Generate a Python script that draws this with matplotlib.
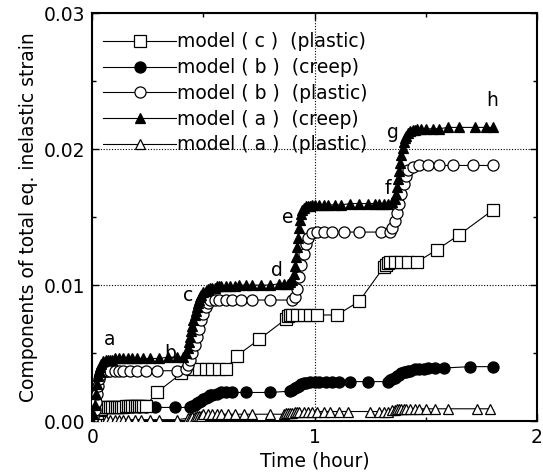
import matplotlib
matplotlib.use("Agg")
import matplotlib.pyplot as plt
from matplotlib.ticker import MultipleLocator

plt.rcParams['font.family'] = ['DejaVu Sans']

# ---------------- data ----------------
t_a_creep = [0, 0.005, 0.01, 0.015, 0.02, 0.025, 0.03, 0.035, 0.04, 0.05, 0.06, 0.07, 0.08, 0.09,
             0.10, 0.12, 0.14, 0.16, 0.18, 0.20, 0.23, 0.26, 0.30, 0.34, 0.38, 0.41, 0.42, 0.43,
             0.435, 0.44, 0.445, 0.45, 0.455, 0.46, 0.465, 0.47, 0.475, 0.48, 0.485, 0.49, 0.50,
             0.51, 0.52, 0.53, 0.54, 0.55, 0.56, 0.57, 0.58, 0.60, 0.62, 0.64, 0.66, 0.69, 0.72,
             0.76, 0.80, 0.84, 0.86, 0.88, 0.89, 0.90, 0.905, 0.91, 0.915, 0.92, 0.925, 0.93,
             0.935, 0.94, 0.945, 0.95, 0.96, 0.97, 0.98, 0.99, 1.00, 1.02, 1.04, 1.06, 1.09, 1.12,
             1.16, 1.20, 1.24, 1.27, 1.29, 1.31, 1.33, 1.35, 1.36, 1.365, 1.37, 1.375, 1.38, 1.385,
             1.39, 1.395, 1.40, 1.405, 1.41, 1.42, 1.43, 1.44, 1.45, 1.46, 1.48, 1.50, 1.53, 1.56,
             1.60, 1.65, 1.72, 1.77, 1.80]
v_a_creep = [0, 0.0005, 0.0012, 0.0020, 0.0027, 0.0033, 0.0037, 0.0040, 0.0042, 0.0044, 0.0045,
             0.0045, 0.0045, 0.0045, 0.0046, 0.0046, 0.0046, 0.0046, 0.0046, 0.0046, 0.0046,
             0.0046, 0.0046, 0.0047, 0.0047, 0.0047, 0.0050, 0.0054, 0.0058, 0.0062, 0.0066,
             0.0070, 0.0074, 0.0078, 0.0081, 0.0084, 0.0087, 0.0089, 0.0091, 0.0093, 0.0095,
             0.0096, 0.0097, 0.0098, 0.0098, 0.0098, 0.0099, 0.0099, 0.0099, 0.0099, 0.0099,
             0.0099, 0.0100, 0.0100, 0.0100, 0.0100, 0.0100, 0.0101, 0.0101, 0.0101, 0.0102,
             0.0104, 0.0108, 0.0114, 0.0121, 0.0128, 0.0135, 0.0142, 0.0148, 0.0152, 0.0155,
             0.0157, 0.0158, 0.0158, 0.0158, 0.0159, 0.0159, 0.0159, 0.0159, 0.0159, 0.0159,
             0.0159, 0.0160, 0.0160, 0.0160, 0.0160, 0.0160, 0.0160, 0.0160, 0.0161, 0.0163,
             0.0167, 0.0172, 0.0178, 0.0184, 0.0190, 0.0196, 0.0201, 0.0205, 0.0208, 0.0210,
             0.0212, 0.0213, 0.0214, 0.0214, 0.0215, 0.0215, 0.0215, 0.0215, 0.0215, 0.0216,
             0.0216, 0.0216, 0.0216, 0.0216]

t_b_plastic = [0, 0.005, 0.01, 0.015, 0.02, 0.025, 0.03, 0.035, 0.04, 0.05, 0.06, 0.07, 0.08,
               0.10, 0.12, 0.14, 0.17, 0.20, 0.24, 0.29, 0.38, 0.42, 0.43, 0.44, 0.45, 0.46, 0.47,
               0.48, 0.49, 0.50, 0.51, 0.52, 0.53, 0.55, 0.57, 0.60, 0.63, 0.67, 0.72, 0.80, 0.90,
               0.91, 0.92, 0.93, 0.94, 0.95, 0.96, 0.97, 0.99, 1.01, 1.04, 1.08, 1.13, 1.20, 1.30,
               1.34, 1.35, 1.36, 1.37, 1.38, 1.39, 1.40, 1.41, 1.42, 1.44, 1.47, 1.51, 1.56, 1.62,
               1.71, 1.80]
v_b_plastic = [0, 0.0003, 0.0008, 0.0014, 0.0020, 0.0026, 0.0031, 0.0034, 0.0036, 0.0037, 0.0037,
               0.0037, 0.0037, 0.0037, 0.0037, 0.0037, 0.0037, 0.0037, 0.0037, 0.0037, 0.0037,
               0.0038, 0.0041, 0.0045, 0.0050, 0.0056, 0.0062, 0.0068, 0.0074, 0.0079, 0.0084,
               0.0087, 0.0089, 0.0089, 0.0089, 0.0089, 0.0089, 0.0089, 0.0089, 0.0089, 0.0089,
               0.0091, 0.0097, 0.0106, 0.0115, 0.0123, 0.0130, 0.0135, 0.0138, 0.0139, 0.0139,
               0.0139, 0.0139, 0.0139, 0.0139, 0.0139, 0.0142, 0.0147, 0.0153, 0.0160, 0.0167,
               0.0174, 0.0180, 0.0185, 0.0187, 0.0188, 0.0188, 0.0188, 0.0188, 0.0188, 0.0188]

t_c_plastic = [0, 0.01, 0.02, 0.03, 0.04, 0.05, 0.06, 0.07, 0.08, 0.09, 0.10, 0.11, 0.12, 0.13,
               0.14, 0.15, 0.16, 0.17, 0.18, 0.19, 0.20, 0.21, 0.22, 0.23, 0.24, 0.29, 0.40, 0.45,
               0.48, 0.51, 0.54, 0.57, 0.60, 0.65, 0.75, 0.87, 0.88, 0.89, 0.90, 0.92, 0.95, 0.98,
               1.01, 1.10, 1.20, 1.31, 1.32, 1.33, 1.34, 1.36, 1.39, 1.42, 1.46, 1.55, 1.65, 1.80]
v_c_plastic = [0, 0.0003, 0.0006, 0.0008, 0.0009, 0.0010, 0.0010, 0.0010, 0.0010, 0.0010, 0.0010,
               0.0010, 0.0010, 0.0010, 0.0010, 0.0011, 0.0011, 0.0011, 0.0011, 0.0011, 0.0011,
               0.0011, 0.0011, 0.0011, 0.0011, 0.0021, 0.0035, 0.0038, 0.0038, 0.0038, 0.0038,
               0.0038, 0.0038, 0.0048, 0.0060, 0.0075, 0.0077, 0.0078, 0.0078, 0.0078, 0.0078,
               0.0078, 0.0078, 0.0078, 0.0088, 0.0113, 0.0115, 0.0116, 0.0117, 0.0117, 0.0117,
               0.0117, 0.0117, 0.0126, 0.0137, 0.0155]

t_b_creep = [0, 0.01, 0.02, 0.03, 0.04, 0.05, 0.06, 0.08, 0.10, 0.12, 0.14, 0.16, 0.18, 0.21, 0.24,
             0.28, 0.37, 0.44, 0.45, 0.46, 0.47, 0.48, 0.49, 0.50, 0.51, 0.52, 0.53, 0.54, 0.56,
             0.58, 0.60, 0.63, 0.69, 0.80, 0.89, 0.90, 0.91, 0.92, 0.93, 0.94, 0.95, 0.96, 0.98,
             1.00, 1.02, 1.05, 1.08, 1.11, 1.16, 1.24, 1.33, 1.34, 1.35, 1.36, 1.37, 1.38, 1.39,
             1.40, 1.41, 1.42, 1.43, 1.45, 1.47, 1.49, 1.51, 1.54, 1.58, 1.70, 1.80]
v_b_creep = [0, 0.0003, 0.0006, 0.0008, 0.0009, 0.0009, 0.0010, 0.0010, 0.0010, 0.0010, 0.0010,
             0.0010, 0.0010, 0.0010, 0.0010, 0.0010, 0.0010, 0.0010, 0.0011, 0.0012, 0.0013,
             0.0014, 0.0015, 0.0016, 0.0017, 0.0018, 0.0019, 0.0019, 0.0020, 0.0021, 0.0021,
             0.0021, 0.0021, 0.0021, 0.0022, 0.0023, 0.0024, 0.0025, 0.0026, 0.0027, 0.0028,
             0.0028, 0.0029, 0.0029, 0.0029, 0.0029, 0.0029, 0.0029, 0.0029, 0.0029, 0.0029,
             0.0030, 0.0031, 0.0032, 0.0033, 0.0034, 0.0035, 0.0036, 0.0036, 0.0037, 0.0037,
             0.0038, 0.0038, 0.0038, 0.0039, 0.0039, 0.0039, 0.0040, 0.0040]

t_a_plastic = [0, 0.02, 0.04, 0.06, 0.08, 0.10, 0.12, 0.14, 0.16, 0.19, 0.22, 0.26, 0.30, 0.38,
               0.43, 0.44, 0.45, 0.46, 0.47, 0.48, 0.49, 0.50, 0.52, 0.54, 0.56, 0.58, 0.61, 0.64,
               0.68, 0.72, 0.80, 0.86, 0.87, 0.88, 0.89, 0.90, 0.91, 0.92, 0.93, 0.95, 0.97, 0.99,
               1.01, 1.04, 1.07, 1.11, 1.15, 1.25, 1.29, 1.31, 1.33, 1.35, 1.36, 1.37, 1.38, 1.39,
               1.40, 1.41, 1.43, 1.45, 1.47, 1.50, 1.54, 1.60, 1.73, 1.79]
v_a_plastic = [0, 0.0001, 0.0001, 0.0001, 0.0001, 0.0001, 0.0001, 0.0001, 0.0001, 0.0001, 0.0001,
               0.0001, 0.0001, 0.0001, 0.0002, 0.0002, 0.0003, 0.0003, 0.0004, 0.0004, 0.0004,
               0.0005, 0.0005, 0.0005, 0.0005, 0.0005, 0.0005, 0.0005, 0.0005, 0.0005, 0.0005,
               0.0005, 0.0006, 0.0006, 0.0006, 0.0006, 0.0007, 0.0007, 0.0007, 0.0007, 0.0007,
               0.0007, 0.0007, 0.0007, 0.0007, 0.0007, 0.0007, 0.0007, 0.0007, 0.0007, 0.0007,
               0.0008, 0.0008, 0.0009, 0.0009, 0.0009, 0.0009, 0.0009, 0.0009, 0.0009, 0.0009,
               0.0009, 0.0009, 0.0009, 0.0009, 0.0009]

point_labels = ['a', 'b', 'c', 'd', 'e', 'f', 'g', 'h']
label_t = [0.08, 0.35, 0.43, 0.83, 0.88, 1.33, 1.35, 1.80]
label_v = [0.0060, 0.0050, 0.0092, 0.0111, 0.0150, 0.0171, 0.0212, 0.0236]

series_names = ['model ( c )  (plastic)', 'model ( b )  (creep)', 'model ( b )  (plastic)',
                'model ( a )  (creep)', 'model ( a )  (plastic)']

x_label = 'Time (hour)'
y_label = 'Components of total eq. inelastic strain'

# ---------------- figure ----------------
fig = plt.figure(figsize=(5.43, 4.72), dpi=100)
ax = fig.add_axes([0.170, 0.108, 0.819, 0.864])

lw = 0.8
common = dict(color='black', linewidth=lw, markeredgecolor='black', markeredgewidth=0.9)

ax.plot(t_a_plastic, v_a_plastic, marker='^', markersize=7, markerfacecolor='white',
        label=series_names[4], zorder=3, **common)
ax.plot(t_b_creep, v_b_creep, marker='o', markersize=8, markerfacecolor='black',
        label=series_names[1], zorder=4, **common)
ax.plot(t_c_plastic, v_c_plastic, marker='s', markersize=8, markerfacecolor='white',
        label=series_names[0], zorder=5, **common)
ax.plot(t_b_plastic, v_b_plastic, marker='o', markersize=8, markerfacecolor='white',
        label=series_names[2], zorder=6, **common)
ax.plot(t_a_creep, v_a_creep, marker='^', markersize=6.5, markerfacecolor='black',
        label=series_names[3], zorder=7, **common)

fs = 13.5
for s, tx, vy in zip(point_labels, label_t, label_v):
    ax.text(tx, vy, s, fontsize=fs, ha='center', va='center', zorder=10)

ax.set_xlim(0, 2)
ax.set_ylim(0, 0.03)
ax.xaxis.set_minor_locator(MultipleLocator(0.5))
ax.yaxis.set_minor_locator(MultipleLocator(0.005))
ax.set_xticks([0, 1, 2])
ax.set_xticklabels(['0', '1', '2'])
ax.set_yticks([0, 0.01, 0.02, 0.03])
ax.set_yticklabels(['0.00', '0.01', '0.02', '0.03'])
ax.tick_params(which='both', direction='in', top=True, right=True, labelsize=fs, pad=5)
ax.tick_params(which='major', length=5, width=1)
ax.tick_params(which='minor', length=3, width=1)
ax.grid(True, which='major', color='black', linestyle=(0, (1, 1.5)), linewidth=0.8)
for sp in ax.spines.values():
    sp.set_linewidth(1.5)

ax.set_xlabel(x_label, fontsize=fs, labelpad=3)
ax.set_ylabel(y_label, fontsize=fs, labelpad=4)

handles, labels = ax.get_legend_handles_labels()
order = [labels.index(n) for n in series_names]
leg = ax.legend([handles[i] for i in order], [labels[i] for i in order],
                loc='upper left', bbox_to_anchor=(-0.005, 0.985), frameon=False, fontsize=fs,
                handlelength=3.9, handletextpad=0.05, labelspacing=0.36, borderaxespad=0.3,
                numpoints=1)

fig.savefig('out.png', dpi=100)
